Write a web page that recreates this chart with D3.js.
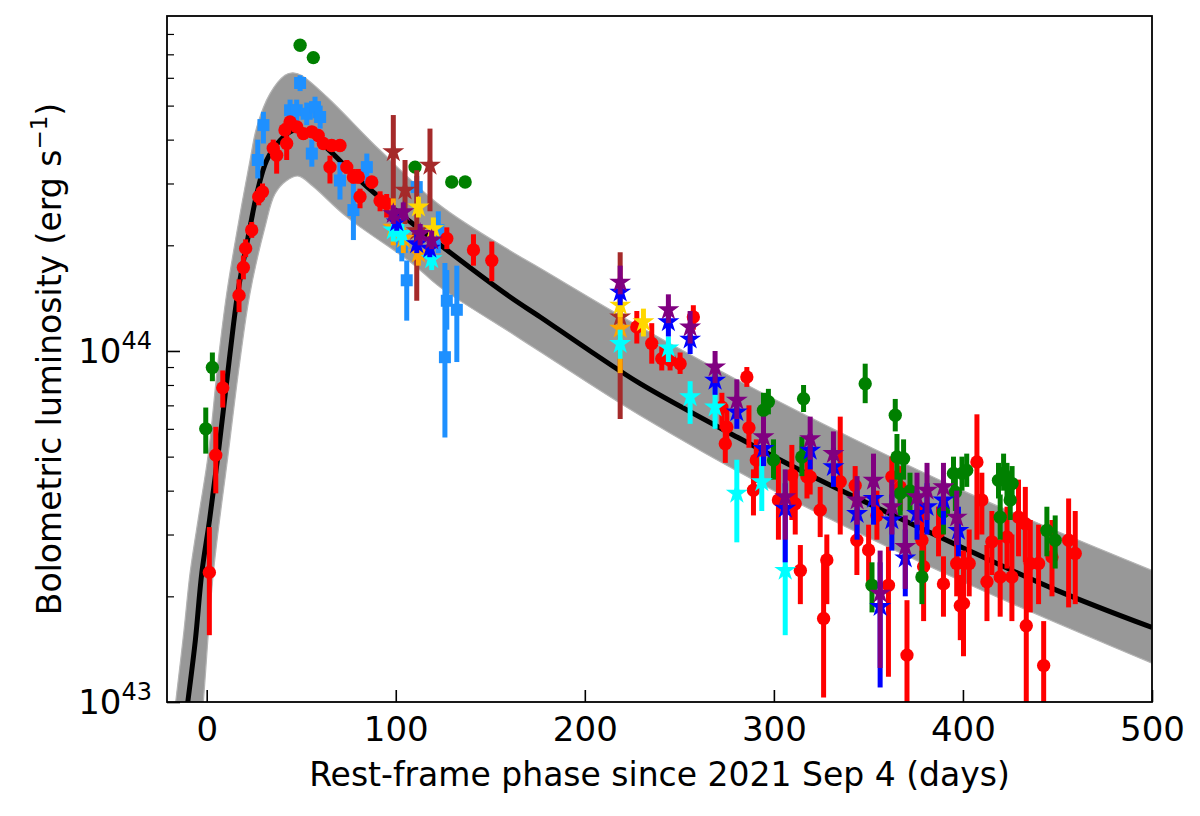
<!DOCTYPE html>
<html>
<head>
<meta charset="utf-8">
<script src="https://cdn.jsdelivr.net/npm/d3@7"></script>
<style>
  body { margin: 0; background: #fff; }
  text { font-family: "DejaVu Sans", sans-serif; }
</style>
</head>
<body>
<svg id="chart" width="1200" height="816"></svg>
<script>
/* model: best fit curve and envelope of the posterior draws, [phase (d), L (erg/s)] */
var modelBest = [
  [-13, 7.5e42], [-10, 1.0e43], [-6, 1.5e43], [-2.6, 2.33e43], [1.5, 3.3e43],
  [6.1, 5.11e43], [12.3, 9.8e43], [16.4, 1.46e44], [22.9, 2.25e44], [26.5, 2.8e44],
  [31.7, 3.49e44], [38.8, 3.98e44], [46, 4.25e44], [55, 4.15e44], [65, 3.72e44],
  [85, 2.93e44], [127, 1.94e44], [160.5, 1.425e44], [176.4, 1.25e44], [202.8, 1.0e44],
  [229.3, 8.07e43], [282, 5.63e43], [324.5, 4.28e43], [395, 2.83e43], [449.7, 2.08e43],
  [500, 1.63e43]
];
var modelUpper = [
  [-19, 7.6e42], [-16.4, 1.0e43], [-12, 1.6e43], [-8.8, 2.33e43], [-4, 3.45e43],
  [0.9, 5.11e43], [6.1, 9.4e43], [10.6, 1.46e44], [16.4, 2.25e44], [22.9, 3.49e44],
  [26.5, 4.35e44], [33.5, 5.41e44], [41.4, 6.1e44], [45.5, 6.2e44], [50, 6.1e44],
  [63.5, 5.3e44], [91.7, 3.73e44], [123.4, 2.6e44], [160.5, 1.93e44], [176.4, 1.72e44],
  [229.3, 1.17e44], [300, 7.3e43], [400, 4.0e43], [500, 2.37e43]
];
var modelLower = [
  [-3.5, 8.0e42], [-1.8, 1.0e43], [3.5, 2.33e43], [11.4, 5.11e43], [17.6, 9.4e43],
  [22.9, 1.46e44], [30.8, 2.25e44], [36.1, 2.8e44], [42, 3.05e44], [48.5, 3.15e44],
  [56, 2.95e44], [74, 2.41e44], [109, 1.77e44], [123.4, 1.52e44], [160.5, 1.13e44],
  [176.4, 9.95e43], [229.3, 6.55e43], [300, 4.0e43], [400, 2.2e43], [500, 1.29e43]
];

/* data: [phase, L, L_low, L_high] */
var redPts = [
  [1.4, 2.34e43, 1.55e43, 3.15e43], [4.8, 5.05e43, 3.93e43, 6.08e43], [8.5, 7.85e43, 6.9e43, 8.8e43],
  [17.1, 1.44e44, 1.29e44, 1.6e44], [19.4, 1.73e44, 1.6e44, 1.87e44], [20.6, 1.96e44, 1.85e44, 2.08e44],
  [23.8, 2.21e44, 2.1e44, 2.33e44], [27.5, 2.75e44, 2.6e44, 2.9e44], [29.5, 2.84e44, 2.7e44, 3.0e44],
  [35.2, 3.78e44, 3.55e44, 4.0e44], [37, 3.61e44, 3.2e44, 3.8e44], [41.4, 4.26e44, 4.1e44, 4.45e44],
  [42.3, 3.9e44, 3.5e44, 4.1e44], [44.1, 4.49e44, 4.3e44, 4.65e44], [47.6, 4.35e44, 4.2e44, 4.5e44],
  [51.1, 4.16e44, 4.0e44, 4.3e44], [55.6, 4.21e44, 4.05e44, 4.35e44], [59, 4.11e44, 3.95e44, 4.25e44],
  [61.7, 3.9e44, 3.75e44, 4.05e44], [65.2, 3.34e44, 3.0e44, 3.6e44], [66.1, 3.85e44, 3.7e44, 4.0e44],
  [70.5, 3.85e44, 3.7e44, 4.0e44], [74.1, 3.34e44, 3.2e44, 3.5e44], [77.6, 3.13e44, 3.0e44, 3.3e44],
  [80.2, 3.13e44, 3.0e44, 3.3e44], [81.1, 2.75e44, 2.55e44, 2.9e44], [87.3, 3.03e44, 2.9e44, 3.15e44],
  [91.7, 2.68e44, 2.5e44, 2.85e44], [95.2, 2.63e44, 2.4e44, 2.8e44], [127, 2.09e44, 1.95e44, 2.25e44],
  [141.1, 1.94e44, 1.75e44, 2.15e44], [150.8, 1.81e44, 1.58e44, 2.05e44],
  [227.5, 1.17e44, 1.05e44, 1.3e44], [235.4, 1.05e44, 9.2e43, 1.2e44], [240.7, 9.51e43, 8.8e43, 1.03e44],
  [245.1, 9.41e43, 8.8e43, 1.0e44], [250.4, 9.2e43, 8.6e43, 9.9e43], [257.4, 1.25e44, 1.15e44, 1.35e44],
  [272.5, 6.92e43, 6.0e43, 7.6e43], [274.3, 5.44e43, 4.8e43, 6.0e43], [275.1, 6.07e43, 5.4e43, 6.8e43],
  [285.7, 8.43e43, 7.9e43, 9.0e43], [286.8, 6.04e43, 5.3e43, 7.0e43], [289.2, 4.01e43, 3.4e43, 4.6e43],
  [290.7, 4.89e43, 4.2e43, 5.6e43], [302.4, 3.76e43, 2.9e43, 4.9e43], [309.5, 4.43e43, 3.3e43, 5.4e43],
  [311.3, 3.67e43, 3.0e43, 4.5e43], [314, 2.37e43, 1.9e43, 2.8e43], [317.5, 4.38e43, 3.8e43, 5.0e43],
  [319.2, 4.38e43, 3.9e43, 4.9e43], [324.5, 3.52e43, 2.95e43, 4.1e43], [326.3, 1.73e43, 1.03e43, 2.54e43],
  [328, 2.54e43, 1.9e43, 3.0e43], [335.1, 4.24e43, 3.0e43, 6.5e43], [343, 4.14e43, 3.6e43, 4.7e43],
  [343.9, 2.89e43, 2.3e43, 3.5e43], [350.1, 2.71e43, 2.2e43, 3.2e43], [354.5, 3.4e43, 2.9e43, 4.0e43],
  [360.6, 2.15e43, 1.18e43, 2.77e43], [362.4, 4.38e43, 3.8e43, 5.0e43], [366.8, 4.1e43, 3.5e43, 4.7e43],
  [370.4, 1.36e43, 0.99e43, 1.95e43], [378.3, 2.89e43, 2.2e43, 3.7e43], [379.2, 2.43e43, 1.7e43, 3.0e43],
  [387.1, 3.05e43, 2.6e43, 3.6e43], [389.7, 2.17e43, 1.75e43, 2.6e43], [396.7, 2.48e43, 2.0e43, 3.0e43],
  [398.6, 1.88e43, 1.5e43, 2.3e43], [400.3, 1.91e43, 1.35e43, 2.7e43], [403.3, 2.48e43, 2.0e43, 3.1e43],
  [407.4, 4.83e43, 2.9e43, 6.6e43], [410, 3.76e43, 3.0e43, 4.5e43], [412.7, 2.2e43, 1.7e43, 2.8e43],
  [415.3, 2.86e43, 2.3e43, 3.5e43], [419.7, 2.27e43, 1.75e43, 2.9e43], [423.3, 2.95e43, 2.4e43, 3.6e43],
  [425.9, 2.27e43, 1.7e43, 3.0e43], [429.4, 3.36e43, 2.6e43, 4.3e43], [433, 3.22e43, 2.5e43, 4.1e43],
  [433.5, 1.65e43, 1.0e43, 2.5e43], [435.6, 2.48e43, 1.8e43, 3.3e43], [440, 2.48e43, 1.9e43, 3.2e43],
  [442.7, 1.27e43, 0.95e43, 1.7e43], [447.1, 2.59e43, 2.0e43, 3.3e43], [455.9, 2.89e43, 1.86e43, 3.8e43],
  [459.4, 2.65e43, 1.9e43, 3.5e43]
];
var greenPts = [
  [-0.5, 6.0e43, 5.1e43, 6.9e43], [3.0, 8.97e43, 8.2e43, 9.9e43], [49.4, 7.43e44, 7.43e44, 7.43e44],
  [56.4, 6.85e44, 6.85e44, 6.85e44], [110.2, 3.34e44, 3.34e44, 3.34e44], [129.6, 3.03e44, 3.03e44, 3.03e44],
  [136.7, 3.03e44, 3.03e44, 3.03e44],
  [294.5, 6.78e43, 6.0e43, 7.6e43], [297.1, 7.17e43, 6.6e43, 7.8e43], [299.8, 4.89e43, 4.3e43, 5.6e43],
  [314.8, 4.99e43, 4.4e43, 5.7e43], [315.7, 7.31e43, 6.7e43, 8.0e43], [348.3, 8.07e43, 7.1e43, 9.2e43],
  [351.9, 2.15e43, 1.8e43, 2.5e43], [364.2, 6.56e43, 5.9e43, 7.3e43], [365.1, 4.99e43, 4.3e43, 5.8e43],
  [366.8, 3.93e43, 3.4e43, 4.5e43], [368.6, 4.94e43, 4.3e43, 5.6e43], [372, 3.99e43, 3.5e43, 4.5e43],
  [378.3, 2.27e43, 1.9e43, 2.7e43], [389.7, 3.48e43, 3.0e43, 4.0e43], [395, 4.48e43, 4.0e43, 5.0e43],
  [396, 3.96e43, 3.5e43, 4.5e43], [399.5, 4.48e43, 4.0e43, 5.0e43], [402, 4.57e43, 4.1e43, 5.1e43],
  [418.8, 4.28e43, 3.8e43, 4.8e43], [419.7, 3.36e43, 2.9e43, 3.9e43], [421.5, 4.48e43, 4.0e43, 5.1e43],
  [423.3, 4.28e43, 3.8e43, 4.8e43], [425, 3.76e43, 3.3e43, 4.3e43], [426, 4.19e43, 3.7e43, 4.7e43],
  [444.4, 3.08e43, 2.6e43, 3.6e43], [448.8, 2.89e43, 2.4e43, 3.4e43]
];
var skyPts = [
  [27, 3.5e44, 3.1e44, 4.0e44], [30, 4.4e44, 3.9e44, 4.8e44], [44.1, 4.85e44, 4.5e44, 5.2e44],
  [47.6, 4.85e44, 4.5e44, 5.2e44], [49.4, 5.8e44, 5.5e44, 6.1e44], [52.9, 4.74e44, 4.4e44, 5.1e44],
  [55.6, 3.65e44, 3.35e44, 4.0e44], [57.3, 4.95e44, 4.6e44, 5.3e44], [60, 4.64e44, 4.3e44, 5.0e44],
  [70.5, 3.06e44, 2.7e44, 3.45e44], [77.6, 2.52e44, 2.07e44, 3.0e44], [84.7, 3.34e44, 3.0e44, 3.65e44],
  [103.2, 1.98e44, 1.8e44, 2.2e44], [105.8, 1.59e44, 1.22e44, 1.81e44], [111.1, 2.93e44, 2.7e44, 3.15e44],
  [122.5, 2.21e44, 1.9e44, 2.5e44], [126, 9.6e43, 5.67e43, 1.78e44], [127, 1.39e44, 1.15e44, 1.7e44],
  [132.3, 1.31e44, 9.3e43, 1.75e44]
];
var brownStars = [
  [98.7, 3.69e44, 2.68e44, 4.7e44], [104.9, 2.87e44, 2.3e44, 3.5e44], [111.1, 2.2e44, 1.39e44, 3.27e44],
  [118.1, 3.38e44, 2.5e44, 4.3e44], [218.7, 1.25e44, 6.4e43, 1.91e44]
];
var orangeStars = [
  [98.7, 2.25e44, 2.0e44, 2.72e44], [104, 2.09e44, 1.9e44, 2.25e44], [112, 1.9e44, 1.75e44, 2.05e44],
  [218.7, 1.16e44, 8.65e43, 1.3e44]
];
var cyanStars = [
  [98.7, 2.21e44, 2.05e44, 2.4e44], [103.2, 2.16e44, 2.0e44, 2.3e44], [119, 1.83e44, 1.7e44, 1.95e44],
  [218.7, 1.05e44, 9.5e43, 1.15e44], [244.2, 1.02e44, 9.3e43, 1.1e44], [255.7, 7.4e43, 6.2e43, 8.2e43],
  [268.9, 6.92e43, 6.0e43, 7.8e43], [280.4, 3.93e43, 2.85e43, 4.9e43], [293.6, 4.24e43, 3.5e43, 5.0e43],
  [306, 2.37e43, 1.55e43, 2.9e43]
];
var goldStars = [
  [112, 2.57e44, 2.4e44, 2.75e44], [119.9, 2.23e44, 2.05e44, 2.4e44], [218.7, 1.35e44, 1.25e44, 1.45e44],
  [231, 1.21e44, 1.1e44, 1.32e44]
];
var blueStars = [
  [100.5, 2.33e44, 2.2e44, 2.45e44], [111.1, 2.02e44, 1.9e44, 2.15e44], [118, 1.96e44, 1.85e44, 2.1e44],
  [218.7, 1.47e44, 1.35e44, 1.6e44], [244.2, 1.21e44, 1.1e44, 1.3e44], [255.7, 1.08e44, 9.8e43, 1.18e44],
  [268.9, 8.25e43, 7.5e43, 9.0e43], [280.4, 6.7e43, 6.0e43, 7.4e43], [294.5, 5.27e43, 4.7e43, 5.9e43],
  [306, 3.56e43, 2.5e43, 4.2e43], [319.2, 5.21e43, 4.6e43, 5.8e43], [331.5, 4.68e43, 4.1e43, 5.3e43],
  [344, 3.44e43, 2.9e43, 4.0e43], [352.7, 3.8e43, 3.2e43, 4.4e43], [356.2, 1.87e43, 1.1e43, 2.5e43],
  [362.4, 3.3e43, 2.7e43, 3.9e43], [369.5, 2.57e43, 2.0e43, 3.1e43], [375.7, 3.44e43, 2.9e43, 4.0e43],
  [381, 3.6e43, 3.0e43, 4.2e43], [389.7, 3.76e43, 3.2e43, 4.3e43], [397.6, 3.08e43, 2.6e43, 3.6e43]
];
var purpleStars = [
  [98.7, 2.46e44, 2.3e44, 2.6e44], [104, 2.49e44, 2.35e44, 2.65e44], [112.9, 2.16e44, 2.0e44, 2.3e44],
  [119, 2.07e44, 1.95e44, 2.2e44], [218.7, 1.57e44, 1.45e44, 1.75e44], [244.2, 1.31e44, 1.2e44, 1.45e44],
  [255.7, 1.17e44, 1.05e44, 1.3e44], [268.9, 9.0e43, 8.1e43, 1.0e44], [280.4, 7.24e43, 6.4e43, 8.3e43],
  [294.5, 5.69e43, 5.0e43, 6.5e43], [306, 3.84e43, 2.9e43, 4.6e43], [319.2, 5.62e43, 4.9e43, 6.5e43],
  [331.5, 5.1e43, 4.4e43, 5.9e43], [344, 3.76e43, 3.2e43, 4.4e43], [352.7, 4.28e43, 3.6e43, 5.1e43],
  [356.2, 2.04e43, 1.25e43, 2.7e43], [362.4, 3.6e43, 3.0e43, 4.3e43], [369.5, 2.77e43, 2.1e43, 3.4e43],
  [375.7, 3.84e43, 3.2e43, 4.5e43], [381, 4.01e43, 3.3e43, 4.8e43], [389.7, 4.1e43, 3.5e43, 4.8e43],
  [396.7, 3.36e43, 2.8e43, 4.0e43]
];

var xTicks = [0, 100, 200, 300, 400, 500];
var yMajor = [1e43, 1e44];
var yMinor = [2e43, 3e43, 4e43, 5e43, 6e43, 7e43, 8e43, 9e43, 2e44, 3e44, 4e44, 5e44, 6e44, 7e44, 8e44];

var svg = d3.select("#chart");

var margin = {top: 16, right: 48, bottom: 114, left: 167},
    width = 1200 - margin.left - margin.right,
    height = 816 - margin.top - margin.bottom;

var g = svg.append("g")
    .attr("transform", "translate(" + margin.left + "," + margin.top + ")");

var x = d3.scaleLinear().domain([-21, 500]).range([0, width]);
var y = d3.scaleLog().domain([1e43, 9e44]).range([height, 0]);

g.append("clipPath").attr("id", "plotclip")
  .append("rect").attr("width", width).attr("height", height);

var plot = g.append("g").attr("clip-path", "url(#plotclip)");

var curve = d3.line()
    .x(function(d) { return x(d[0]); })
    .y(function(d) { return y(d[1]); })
    .curve(d3.curveCatmullRom.alpha(0.5));

/* grey band of model draws: upper edge out, lower edge back */
var bandPath = curve(modelUpper) + "L" + curve(modelLower.slice().reverse()).slice(1) + "Z";
plot.append("path")
    .attr("d", bandPath)
    .attr("fill", "#989898")
    .attr("stroke", "#b4b4b4")
    .attr("stroke-width", 1.2);

plot.append("path")
    .datum(modelBest)
    .attr("d", curve)
    .attr("fill", "none")
    .attr("stroke", "#000")
    .attr("stroke-width", 5);

/* one errorbar series */
function series(data, color, marker) {
  var s = plot.append("g");
  s.selectAll("line")
      .data(data.filter(function(d) { return d[3] > d[2]; }))
    .enter().append("line")
      .attr("x1", function(d) { return x(d[0]); })
      .attr("x2", function(d) { return x(d[0]); })
      .attr("y1", function(d) { return y(d[2]); })
      .attr("y2", function(d) { return y(d[3]); })
      .attr("stroke", color)
      .attr("stroke-width", 5);
  var sym = marker == "star" ? d3.symbol(d3.symbolStar, 150)
          : marker == "square" ? d3.symbol(d3.symbolSquare, 144)
          : d3.symbol(d3.symbolCircle, 140);
  s.selectAll("path")
      .data(data)
    .enter().append("path")
      .attr("transform", function(d) { return "translate(" + x(d[0]) + "," + y(d[1]) + ")"; })
      .attr("d", sym)
      .attr("fill", color);
}

series(skyPts, "#1e90ff", "square");
series(redPts, "#ff0000", "circle");
series(greenPts, "#008000", "circle");
series(brownStars, "#a52a2a", "star");
series(orangeStars, "#ffa500", "star");
series(cyanStars, "#00ffff", "star");
series(goldStars, "#ffd700", "star");
series(blueStars, "#0000ff", "star");
series(purpleStars, "#800080", "star");

/* axes, ticks inward */
g.append("g")
    .attr("transform", "translate(0," + height + ")")
    .call(d3.axisBottom(x).tickValues(xTicks).tickSize(-12).tickPadding(15))
    .attr("font-size", 34)
    .attr("font-family", "DejaVu Sans")
    .call(function(a) { a.select(".domain").remove(); })
    .call(function(a) { a.selectAll("line").attr("stroke-width", 1.6); });

g.append("g")
    .call(d3.axisLeft(y).tickValues(yMinor).tickSize(-7).tickFormat(""))
    .call(function(a) { a.select(".domain").remove(); })
    .call(function(a) { a.selectAll("line").attr("stroke-width", 1.2); });

g.append("g")
    .call(d3.axisLeft(y).tickValues(yMajor).tickSize(-13).tickFormat(""))
    .call(function(a) { a.select(".domain").remove(); })
    .call(function(a) { a.selectAll("line").attr("stroke-width", 1.6); });

g.selectAll(".ylab")
    .data(yMajor)
  .enter().append("text")
    .attr("class", "ylab")
    .attr("x", -15)
    .attr("y", function(d) { return y(d) + 12; })
    .attr("text-anchor", "end")
    .attr("font-size", 34)
    .each(function(d) {
      var t = d3.select(this);
      t.append("tspan").text("10");
      t.append("tspan").attr("dy", -14).attr("font-size", 24).text(Math.round(Math.log10(d)));
    });

g.append("rect")
    .attr("width", width)
    .attr("height", height)
    .attr("fill", "none")
    .attr("stroke", "#000")
    .attr("stroke-width", 1.8);

g.append("text")
    .attr("x", width / 2)
    .attr("y", height + 84)
    .attr("text-anchor", "middle")
    .attr("font-size", 33)
    .text("Rest-frame phase since 2021 Sep 4 (days)");

var ylab = g.append("text")
    .attr("transform", "translate(-106," + (height / 2) + ") rotate(-90)")
    .attr("text-anchor", "middle")
    .attr("font-size", 33);
ylab.append("tspan").text("Bolometric luminosity (erg s");
ylab.append("tspan").attr("dy", -14).attr("font-size", 23).text("\u22121");
ylab.append("tspan").attr("dy", 14).text(")");
</script>
</body>
</html>
